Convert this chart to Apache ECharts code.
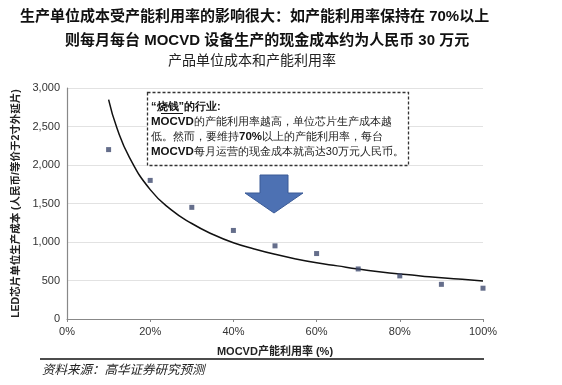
<!DOCTYPE html>
<html>
<head>
<meta charset="utf-8">
<script src="https://cdn.jsdelivr.net/npm/echarts@6/dist/echarts.min.js"></script>
<style>html,body{margin:0;padding:0;background:#fff}#c{width:562px;height:385px}</style>
</head>
<body>
<div id="c"></div>
<script>
// Data
var utilization = [10, 20, 30, 40, 50, 60, 70, 80, 90, 100];
var unitCost = [2200, 1800, 1450, 1150, 950, 850, 650, 560, 450, 400];
var trendX = [10, 12, 15, 20, 25, 30, 35, 40, 45, 50, 55, 60, 65, 70, 75, 80, 85, 90, 95, 100];
var trendY = [2850, 2480, 2100, 1680, 1420, 1240, 1100, 990, 910, 840, 780, 730, 690, 650, 615, 585, 560, 535, 515, 495];
var xTicks = [0, 20, 40, 60, 80, 100];
var yTicks = [0, 500, 1000, 1500, 2000, 2500, 3000];

var FONT = "'Liberation Sans','Noto Sans CJK SC',sans-serif";
var chart = echarts.init(document.getElementById('c'));
chart.setOption({
  animation: false,
  textStyle: {fontFamily: FONT},
  grid: {left: 67, right: 79, top: 88, bottom: 66},
  xAxis: {
    type: 'value', min: xTicks[0], max: xTicks[xTicks.length - 1], interval: 20,
    axisLine: {lineStyle: {color: '#888', width: 1.2}},
    axisTick: {show: true, length: 3, lineStyle: {color: '#888'}},
    splitLine: {show: false},
    axisLabel: {formatter: '{value}%', color: '#333', fontSize: 11, margin: 7, fontFamily: FONT},
    name: 'MOCVD产能利用率 (%)', nameLocation: 'middle', nameGap: 27,
    nameTextStyle: {color: '#222', fontSize: 11, fontWeight: 'bold', fontFamily: FONT}
  },
  yAxis: {
    type: 'value', min: yTicks[0], max: yTicks[yTicks.length - 1], interval: 500,
    axisLine: {show: true, lineStyle: {color: '#888', width: 1.2}},
    axisTick: {show: false},
    splitLine: {lineStyle: {color: '#e2e2e2'}},
    axisLabel: {formatter: function (v) { return v.toLocaleString('en-US'); }, color: '#333', fontSize: 11, margin: 7, fontFamily: FONT},
    name: 'LED芯片单位生产成本 (人民币/等价于2寸外延片)', nameLocation: 'middle', nameGap: 46, nameRotate: 90,
    nameTextStyle: {color: '#222', fontSize: 10.5, fontWeight: 'bold', fontFamily: FONT}
  },
  series: [
    {
      type: 'line', smooth: true, showSymbol: false, z: 2,
      data: trendX.map(function (x, i) { return [x, trendY[i]]; }),
      lineStyle: {color: '#111', width: 1.5}
    },
    {
      type: 'scatter', symbol: 'rect', symbolSize: 5, z: 3,
      data: utilization.map(function (x, i) { return [x, unitCost[i]]; }),
      itemStyle: {color: '#3f4a6e'}
    }
  ],
  graphic: [
    {type: 'text', left: 20, top: 9, style: {text: '生产单位成本受产能利用率的影响很大：如产能利用率保持在 70%以上', fontSize: 15, fontWeight: 'bold', fill: '#111', fontFamily: FONT}},
    {type: 'text', left: 65, top: 33, style: {text: '则每月每台 MOCVD 设备生产的现金成本约为人民币 30 万元', fontSize: 15, fontWeight: 'bold', fill: '#111', fontFamily: FONT}},
    {type: 'text', left: 168, top: 54, style: {text: '产品单位成本和产能利用率', fontSize: 14, fill: '#222', fontFamily: FONT}},
    {type: 'rect', shape: {x: 147.5, y: 92.5, width: 261, height: 73}, z: 10,
      style: {fill: '#fff', stroke: '#333', lineWidth: 1.3, lineDash: [3, 2]}},
    {type: 'text', x: 151, y: 99, z: 11, style: {
      text: '{q|“}{u|烧钱}{q|”}{b|的行业:}\n{m|MOCVD}{t|的产能利用率越高，单位芯片生产成本越}\n{t|低。然而，要维持}{m|70%}{t|以上的产能利用率，每台}\n{m|MOCVD}{t|每月运营的现金成本就高达30万元人民币。}',
      fontFamily: FONT, fill: '#111', lineHeight: 15,
      rich: {
        q: {fontSize: 11, fontWeight: 'bold', lineHeight: 15, fill: '#111'},
        u: {fontSize: 11, fontWeight: 'bold', lineHeight: 15, fill: '#111'},
        b: {fontSize: 11, fontWeight: 'bold', lineHeight: 15, fill: '#111'},
        m: {fontSize: 11.5, fontWeight: 'bold', lineHeight: 15, fill: '#111'},
        t: {fontSize: 11, lineHeight: 15, fill: '#222'}
      }
    }},
    {type: 'rect', shape: {x: 161, y: 113, width: 22, height: 1}, z: 12, style: {fill: '#111'}},
    {type: 'polygon', z: 10, shape: {points: [[260, 175], [288, 175], [288, 193], [303, 193], [274, 213], [245, 193], [260, 193]]},
      style: {fill: '#4d71b3', stroke: '#3a5a96', lineWidth: 1}},
    {type: 'line', shape: {x1: 40, y1: 359, x2: 484, y2: 359}, style: {stroke: '#111', lineWidth: 1.6}},
    {type: 'text', left: 42, top: 364, style: {text: '资料来源：高华证券研究预测', fontSize: 12.5, fontStyle: 'italic', fill: '#222', fontFamily: FONT}}
  ]
});
</script>
</body>
</html>
